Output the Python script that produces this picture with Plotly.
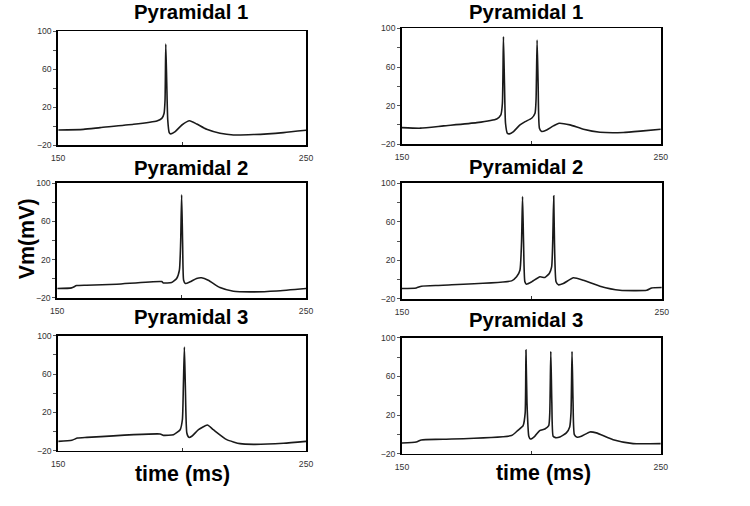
import plotly.graph_objects as go

# ---------------- data (time in ms, membrane potential in mV) ----------------
titles = ["Pyramidal 1", "Pyramidal 1", "Pyramidal 2", "Pyramidal 2", "Pyramidal 3", "Pyramidal 3"]

p1_left_t = [150, 160.2, 166.9, 180.4, 189.8, 191.8, 192.7, 193.1, 193.4, 193.8, 194.2, 194.8, 195.4,
             197.2, 199.9, 203.0, 205.9, 209.9, 215.3, 220.7, 228.8, 240.9, 250]
p1_left_v = [-4.0, -3.3, -1.5, 2.0, 5.5, 8.3, 13.5, 27.4, 86.7, 44.9, 6.5, -6.7, -8.1,
             -5.7, 1.3, 5.8, 2.3, -3.3, -7.4, -9.2, -8.8, -6.7, -4.3]

p1_right_t = [150, 157.1, 166.1, 178.9, 186.6, 188.2, 188.8, 189.2, 189.6, 190.0, 190.7, 191.5, 193.1,
              195.6, 197.6, 200.1, 201.4, 201.8, 202.2, 202.6, 203.1, 204.0, 205.9, 208.5, 210.7,
              214.9, 220.1, 226.5, 235.5, 243.2, 250]
p1_right_v = [-2.8, -3.4, -1.0, 2.4, 6.2, 10.3, 22.4, 91.4, 43.1, 1.7, -8.6, -9.3, -6.9,
              0.0, 3.4, 6.9, 12.1, 25.9, 87.9, 43.1, -3.4, -6.9, -5.2, -1.0, 1.7,
              0.0, -4.5, -7.6, -7.9, -6.2, -4.5]

p2_left_t = [150, 155.8, 157.8, 161.8, 173.9, 192.0, 192.6, 196.0, 198.0, 199.1, 199.6, 200.0, 200.4,
             200.8, 201.5, 203.4, 206.0, 208.0, 210.7, 215.4, 220.8, 227.5, 238.2, 250]
p2_left_v = [-10.2, -9.5, -7.1, -6.7, -5.7, -2.9, -4.3, -3.9, 0.3, 9.0, 37.0, 87.8, 37.0,
             -1.5, -5.0, -3.2, 0.3, 1.0, -1.5, -9.2, -13.0, -13.7, -12.7, -10.2]

p2_right_t = [150, 155.5, 157.5, 165.8, 192.2, 194.1, 195.4, 196.0, 196.4, 196.8, 197.3, 197.9, 199.9,
              203.1, 205.0, 206.7, 207.6, 208.0, 208.4, 208.7, 209.3, 210.2, 212.1, 216.0, 219.8,
              226.2, 233.9, 244.2, 246.1, 250]
p2_right_v = [-9.2, -8.6, -6.8, -5.8, -1.3, 2.9, 9.8, 37.6, 86.1, 37.6, -2.3, -4.7, -2.3,
              2.9, 2.2, 6.4, 13.3, 37.6, 86.8, 37.6, -2.3, -5.4, -4.0, 1.9, -0.6,
              -6.8, -11.0, -11.0, -8.6, -8.2]

p3_left_t = [150, 155.5, 157.8, 161.6, 191.1, 192.5, 196.5, 199.2, 200.1, 200.5, 200.9, 201.3, 201.9,
             202.7, 203.9, 206.6, 210.2, 212.6, 218.0, 223.4, 228.8, 240.9, 250]
p3_left_v = [-10.3, -9.2, -6.8, -6.1, -2.6, -4.0, -3.3, 1.9, 12.3, 47.1, 88.2, 47.1, -1.6,
             -6.1, -5.0, 1.9, 6.8, 1.9, -8.5, -12.7, -13.4, -12.3, -10.3]

p3_right_t = [150, 155.5, 157.5, 165.9, 192.3, 194.8, 196.8, 197.6, 197.9, 198.3, 199.0, 199.6, 201.3,
              203.2, 205.2, 206.7, 207.1, 207.5, 207.9, 208.4, 209.3, 211.0, 213.5, 214.8, 215.3,
              215.7, 216.1, 216.6, 217.7, 219.3, 222.6, 225.1, 231.6, 239.3, 250]
p3_right_v = [-8.9, -7.9, -5.8, -5.1, -1.3, 4.2, 9.1, 22.2, 87.3, 32.6, -2.0, -4.8, -2.0,
              3.9, 5.6, 9.1, 22.2, 85.9, 32.6, -2.0, -3.4, -2.7, 1.5, 7.7, 22.2,
              85.9, 32.6, -0.3, -3.0, -2.0, 2.5, 1.5, -5.5, -9.6, -9.6]

series = [(p1_left_t, p1_left_v), (p1_right_t, p1_right_v),
          (p2_left_t, p2_left_v), (p2_right_t, p2_right_v),
          (p3_left_t, p3_left_v), (p3_right_t, p3_right_v)]

y_tickvals = [-20, 0, 20, 40, 60, 80, 100]
y_ticktext = ["\u221220", "", "20", "", "60", "", "100"]
x_tickvals = [150, 200, 250]
x_ticktext = ["150", "", "250"]

# ---------------- layout geometry (target pixels in a 750x506 picture) ----------------
W, H = 750, 506
S = 0.982  # observed shrink of the photographed page about its centre; compensate


def fx(px):
    return (W / 2 + (px - W / 2) / S) / W


def fy(py):
    return 1 - (H / 2 + (py - H / 2) / S) / H


def fs(size):
    return size / S


# (left, right, top, bottom) of each plot box
boxes = [(58, 306, 31, 145), (402, 661, 28, 144),
         (57, 306, 183, 298), (402, 662, 183, 299),
         (58, 306, 336, 451), (402, 661, 338, 454)]
title_pos = [(191, 12), (526, 12), (191, 168), (526, 167), (191, 317), (526, 320)]

fig = go.Figure()
layout = dict(width=W, height=H, margin=dict(l=0, r=0, t=0, b=0),
              paper_bgcolor="white", plot_bgcolor="white", showlegend=False,
              font=dict(family="Liberation Sans, Arial, sans-serif", color="#000"))
annotations = []
tickfont = dict(family="Liberation Sans, Arial, sans-serif", size=fs(8.5), color="#333")

for i, ((t, v), (l, r, top, bot)) in enumerate(zip(series, boxes)):
    n = "" if i == 0 else str(i + 1)
    fig.add_trace(go.Scatter(x=t, y=v, mode="lines", xaxis="x" + n, yaxis="y" + n,
                             line=dict(color="#1a1a1a", width=1.6, shape="spline", smoothing=0.5),
                             hoverinfo="skip"))
    layout["xaxis" + n] = dict(domain=[fx(l), fx(r)], range=[150, 250], anchor="y" + n,
                               showline=True, mirror=True, linecolor="#000", linewidth=1.8,
                               showgrid=False, zeroline=False, fixedrange=True,
                               tickvals=x_tickvals, ticktext=x_ticktext,
                               ticks="inside", ticklen=3, tickcolor="#333", tickwidth=1,
                               tickfont=tickfont, ticklabelstandoff=4)
    layout["yaxis" + n] = dict(domain=[fy(bot), fy(top)], range=[-20, 100], anchor="x" + n,
                               showline=True, mirror=True, linecolor="#000", linewidth=1.8,
                               showgrid=False, zeroline=False, fixedrange=True,
                               tickvals=y_tickvals, ticktext=y_ticktext,
                               ticks="outside", ticklen=3, tickcolor="#555", tickwidth=1,
                               tickfont=tickfont)
    tx, ty = title_pos[i]
    annotations.append(dict(text="<b>" + titles[i] + "</b>", x=fx(tx), y=fy(ty),
                            xref="paper", yref="paper", xanchor="center", yanchor="middle",
                            showarrow=False, font=dict(size=fs(20), color="#000")))

annotations.append(dict(text="<b>Vm(mV)</b>", x=fx(27), y=fy(239), xref="paper", yref="paper",
                        xanchor="center", yanchor="middle", textangle=-90, showarrow=False,
                        font=dict(size=fs(21), color="#000")))
annotations.append(dict(text="<b>time (ms)</b>", x=fx(182), y=fy(474), xref="paper", yref="paper",
                        xanchor="center", yanchor="middle", showarrow=False,
                        font=dict(size=fs(21), color="#000")))
annotations.append(dict(text="<b>time (ms)</b>", x=fx(544), y=fy(473), xref="paper", yref="paper",
                        xanchor="center", yanchor="middle", showarrow=False,
                        font=dict(size=fs(21), color="#000")))
layout["annotations"] = annotations
fig.update_layout(**layout)
fig.write_html("out.html", config={"displayModeBar": False, "staticPlot": True},
               post_script="document.body.style.margin='0px';document.body.style.padding='0px';"
                           "document.documentElement.style.overflow='hidden';")
